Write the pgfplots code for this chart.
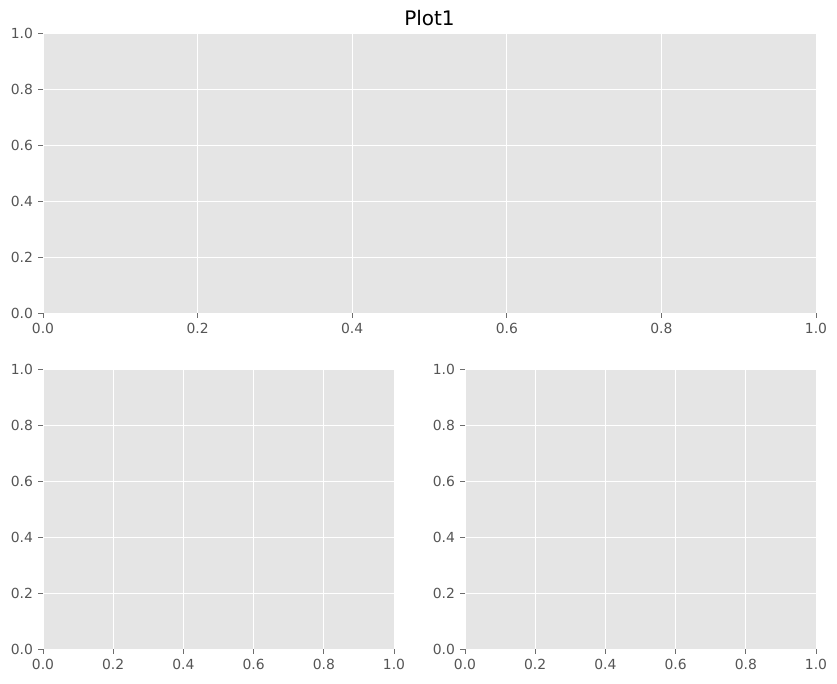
\documentclass[border=0pt]{standalone}
\usepackage{fontspec}
\setmainfont{DejaVu Sans}
\usepackage{pgfplots}
\pgfplotsset{compat=1.18}
\definecolor{bg}{HTML}{E5E5E5}
\definecolor{tk}{HTML}{555555}
\pgfplotsset{ggp/.style={
  scale only axis, xmin=0, xmax=1, ymin=0, ymax=1,
  axis background/.style={fill=bg},
  axis line style={draw=none},
  grid=major, major grid style={white, line width=1.0pt},
  xtick={0,0.2,0.4,0.6,0.8,1}, ytick={0,0.2,0.4,0.6,0.8,1},
  xtick pos=bottom, ytick pos=left,
  tick align=outside, major tick length=4.9pt,
  tick style={tk!85, line width=0.9pt},
  ticklabel style={font=\fontsize{13.9}{16}\selectfont, text=tk},
  xticklabel style={inner sep=0pt, yshift=-4.9pt},
  yticklabel style={inner sep=0pt, xshift=-4.9pt},
  /pgf/number format/.cd, fixed, fixed zerofill, precision=1, assume math mode=true,
  /pgfplots/.cd,
  anchor=north west}}
\begin{document}
\begin{tikzpicture}
\path[use as bounding box] (0,0) rectangle (837pt,-683pt);
\begin{axis}[ggp, at={(43pt,-33pt)}, width=773pt, height=280pt]
\addplot[draw=none] coordinates {(0,0)};
\end{axis}
\begin{axis}[ggp, at={(43pt,-369.5pt)}, width=351pt, height=279.5pt]
\addplot[draw=none] coordinates {(0,0)};
\end{axis}
\begin{axis}[ggp, at={(465pt,-369.5pt)}, width=351pt, height=279.5pt]
\addplot[draw=none] coordinates {(0,0)};
\end{axis}
\node[anchor=base, font=\fontsize{20}{24}\selectfont] at (429.5pt,-25pt) {Plot1};
\end{tikzpicture}
\end{document}
